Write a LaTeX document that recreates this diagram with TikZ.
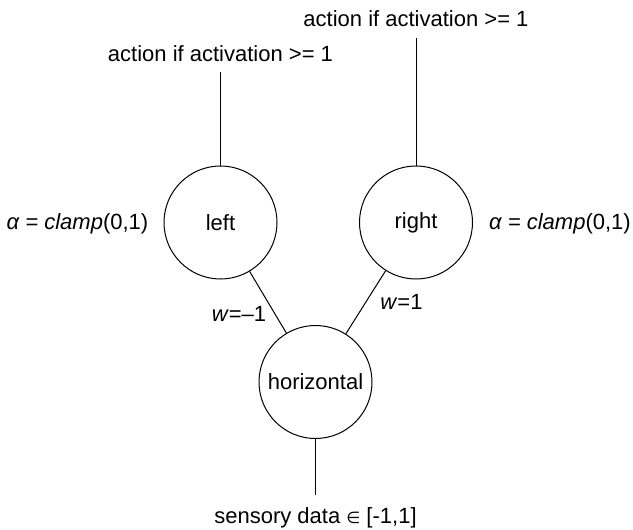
\documentclass[tikz,border=0pt]{standalone}
\usepackage{fontspec}
\setmainfont{Liberation Sans}
\newfontfamily\symfont{DejaVu Sans}
\usetikzlibrary{positioning}

\begin{document}
\begin{tikzpicture}[x=1pt, y=-1pt, every node/.style={font=\fontsize{22}{26}\selectfont},
        neuron/.style={draw, circle, line width=1pt, minimum size=113pt, inner sep=0pt},
        wire/.style={line width=1pt}]
        \useasboundingbox (0,0) rectangle (633,530);

        % Neurons
        \node (Left) [neuron] at (220.5,222.5) {left};
        \node (Right) [neuron] at (416,222.5) {right};
        \node (Horizontal) [neuron] at (315.5,382) {horizontal};

        % Actions
        \node (ActLeft) [anchor=base] at (220.5,61) {action if activation >= 1};
        \node (ActRight) [anchor=base] at (416,27) {action if activation >= 1};
        \draw[wire, shorten >=7pt] (Left) -- (ActLeft);
        \draw[wire, shorten >=7pt] (Right) -- (ActRight);

        % Sensor input
        \node (Sensor) [anchor=base] at (315.5,523) {sensory data {\symfont\fontsize{16}{18}\selectfont ∈} [-1,1]};
        \draw[wire, shorten >=9pt] (Horizontal) -- (Sensor);

        % Weights
        \draw[wire] (Left) -- (Horizontal);
        \draw[wire] (Right) -- (Horizontal);
        \node (WLeft) [anchor=base] at (239,321) {\textit{w}=–1};
        \node (WRight) [anchor=base] at (401.5,309) {\textit{w}=1};

        % Activation functions
        \node (AlphaLeft) [anchor=base] at (77.5,229) {\textit{α = clamp}(0,1)};
        \node (AlphaRight) [anchor=base] at (560,229) {\textit{α = clamp}(0,1)};
\end{tikzpicture}
\end{document}
